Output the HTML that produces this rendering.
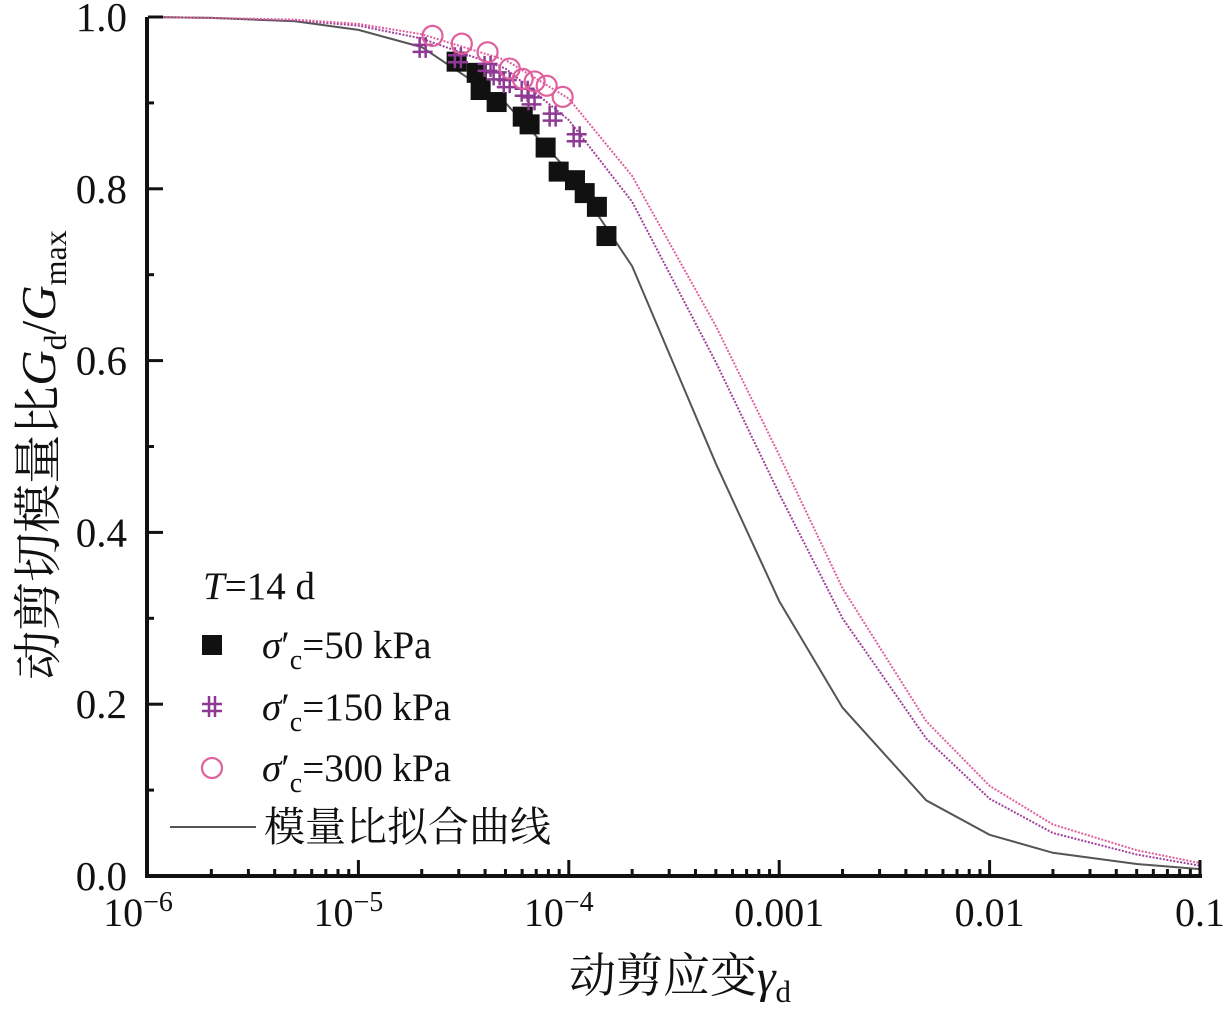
<!DOCTYPE html>
<html><head><meta charset="utf-8"><style>
html,body{margin:0;padding:0;background:#fff;}
svg{display:block;}
text{font-family:"Liberation Serif","Noto Serif CJK SC",serif;fill:#111;}
</style></head><body>
<svg id="chart" width="1232" height="1018" xmlns="http://www.w3.org/2000/svg"></svg>
<script>
// ---- data ----
const xTickExps = [-6,-5,-4,-3,-2,-1];
const xTickLabels = ["10","10","10","0.001","0.01","0.1"];
const xTickSups = ["−6","−5","−4","","",""];
const yTicks = [0,0.2,0.4,0.6,0.8,1.0];
const yTickLabels = ["0.0","0.2","0.4","0.6","0.8","1.0"];

const sq50X = [2.93e-5,3.65e-5,3.81e-5,4.54e-5,6.04e-5,6.51e-5,7.76e-5,8.95e-5,1.07e-4,1.19e-4,1.36e-4,1.51e-4];
const sq50Y = [0.948,0.935,0.915,0.901,0.884,0.875,0.848,0.820,0.810,0.795,0.779,0.745];
const p150X = [2.02e-5,2.97e-5,4.11e-5,4.54e-5,5.07e-5,6.17e-5,6.65e-5,8.38e-5,1.09e-4];
const p150Y = [0.964,0.952,0.942,0.932,0.923,0.913,0.903,0.884,0.860];
const c300X = [2.25e-5,3.10e-5,4.11e-5,5.24e-5,6.04e-5,6.88e-5,7.85e-5,9.35e-5];
const c300Y = [0.978,0.969,0.959,0.940,0.928,0.925,0.920,0.907];

const fitX = [1e-6,2e-6,5e-6,1e-5,2e-5,5e-5,1e-4,2e-4,5e-4,1e-3,2e-3,5e-3,1e-2,2e-2,5e-2,1e-1];
const fit50Y = [1.0,0.999,0.995,0.985,0.965,0.90,0.82,0.71,0.48,0.32,0.196,0.088,0.048,0.027,0.014,0.008];
const fit150Y = [1.0,0.999,0.996,0.99,0.975,0.94,0.88,0.785,0.598,0.445,0.30,0.16,0.09,0.05,0.025,0.012];
const fit300Y = [1.0,0.999,0.997,0.992,0.98,0.95,0.905,0.815,0.64,0.49,0.335,0.18,0.105,0.06,0.03,0.015];

// ---- axes ----
const X0=148, X1=1200, Y0=876, Y1=17;
const xs = v => X0 + (Math.log10(v)+6)/5*(X1-X0);
const ys = v => Y0 - v*(Y0-Y1);
const svg = document.getElementById('chart');
const NS="http://www.w3.org/2000/svg";
function mk(tag, attrs, parent){const e=document.createElementNS(NS,tag);for(const k in attrs)e.setAttribute(k,attrs[k]);(parent||svg).appendChild(e);return e;}

// curves
const curveGroup = mk('g',{});


[[fit50Y,'#555','fit-curve-50kpa','none'],[fit150Y,'#a0409a','fit-curve-150kpa','2 1.5'],[fit300Y,'#e0609e','fit-curve-300kpa','2 1.5']].forEach(([arr,col,name,dash])=>{
  const d = fitX.map((x,i)=>(i?'L':'M')+xs(x).toFixed(1)+' '+ys(arr[i]).toFixed(1)).join(' ');
  const p = mk('path',{d:d,fill:'none',stroke:col,'stroke-width':2,'stroke-dasharray':dash},curveGroup);
  
  
});

// markers
function square(cx,cy,g){const r=mk('rect',{x:cx-10,y:cy-10,width:20,height:20,fill:'#111'},g);return r;}
function plus(cx,cy,g){const p=mk('path',{d:`M${cx-10} ${cy-3}H${cx+10}M${cx-10} ${cy+4}H${cx+10}M${cx-3} ${cy-11}V${cy+10}M${cx+3} ${cy-11}V${cy+10}`,stroke:'#8e3a94','stroke-width':2.5,fill:'none'},g);return p;}
function circ(cx,cy,g){const c=mk('circle',{cx:cx,cy:cy,r:10,fill:'none',stroke:'#e0609e','stroke-width':2.2},g);return c;}
const g1=mk('g',{});


const g2=mk('g',{});


const g3=mk('g',{});


c300X.forEach((x,i)=>{const e=circ(xs(x),ys(c300Y[i]),g3);});
p150X.forEach((x,i)=>{const e=plus(xs(x),ys(p150Y[i]),g2);});
sq50X.forEach((x,i)=>{const e=square(xs(x),ys(sq50Y[i]),g1);});

// axis lines
const ax=mk('path',{d:`M${X0-1} ${Y1}V${Y0}H${X1+2}`,stroke:'#111','stroke-width':4,fill:'none'});



// y ticks
yTicks.forEach((v,i)=>{
  const y=ys(v);
  mk('line',{x1:X0,x2:X0+15,y1:y,y2:y,stroke:'#111','stroke-width':3});
  const t=mk('text',{x:127,y:y+14,'text-anchor':'end','font-size':41});
  t.textContent=yTickLabels[i];
  
  
  if(i<yTicks.length-1){const ym=ys(v+0.1);mk('line',{x1:X0,x2:X0+6,y1:ym,y2:ym,stroke:'#111','stroke-width':3});}
});
// x ticks
xTickExps.forEach((e,i)=>{
  const x=xs(Math.pow(10,e));
  if(e>-6) mk('line',{x1:x,x2:x,y1:Y0,y2:Y0-16,stroke:'#111','stroke-width':3});
  if(e<-1) for(let m=2;m<10;m++){const xm=xs(m*Math.pow(10,e));mk('line',{x1:xm,x2:xm,y1:Y0,y2:Y0-7,stroke:'#111','stroke-width':3});}
  const t=mk('text',{x:x,y:926,'text-anchor':'middle','font-size':40});
  
  
  if(xTickSups[i]){
    t.setAttribute('x',x-10);
    t.textContent=xTickLabels[i];
    const s=mk('tspan',{dy:-15,'font-size':28},t);s.textContent=xTickSups[i];
  } else t.textContent=xTickLabels[i];
});

// axis titles
const xt=mk('text',{x:680,y:992,'text-anchor':'middle','font-size':47});


xt.innerHTML='动剪应变<tspan font-style="italic">γ</tspan><tspan font-size="31" dy="10">d</tspan>';
const yt=mk('text',{x:0,y:0,'text-anchor':'middle','font-size':49,transform:'translate(55,455) rotate(-90)'});


yt.innerHTML='动剪切模量比<tspan font-style="italic">G</tspan><tspan font-size="32" dy="11">d</tspan><tspan dy="-11">/</tspan><tspan font-style="italic">G</tspan><tspan font-size="32" dy="11">max</tspan>';

// legend
const lg=mk('g',{});


const lt=mk('text',{x:203,y:599,'font-size':39},lg);
lt.innerHTML='<tspan font-style="italic">T</tspan>=14 d';
const entries=[[square,645,'=50 kPa'],[plus,707,'=150 kPa'],[circ,768,'=300 kPa']];
entries.forEach(([fn,y,txt])=>{
  const m=fn(212,y,lg);
  
  
  const t=mk('text',{x:262,y:y+13,'font-size':39},lg);
  t.innerHTML='<tspan font-style="italic">σ</tspan>′<tspan font-size="28" dy="11">c</tspan><tspan dy="-11">'+txt+'</tspan>';
  
  
});
mk('line',{x1:170,x2:256,y1:827,y2:827,stroke:'#555','stroke-width':2},lg);
const ft=mk('text',{x:264,y:841,'font-size':41},lg);
ft.textContent='模量比拟合曲线';


</script>
</body></html>
